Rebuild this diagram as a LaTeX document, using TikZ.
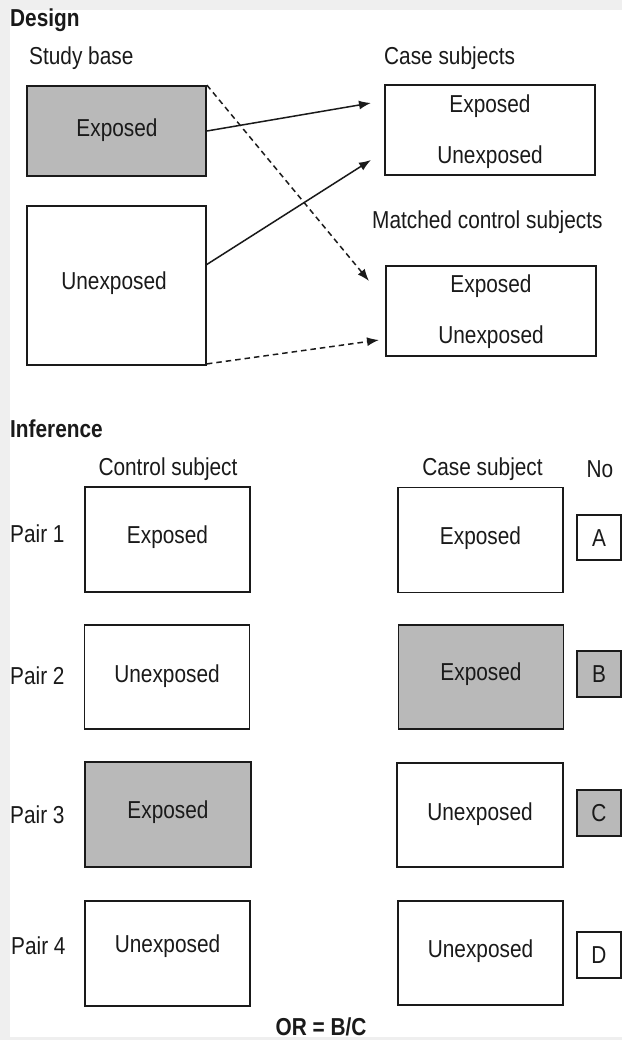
\documentclass[tikz,border=0pt]{standalone}
\usepackage{fontspec}
\setmainfont{Liberation Sans}[FakeStretch=0.85]
\usetikzlibrary{arrows.meta}
\definecolor{framegray}{HTML}{EFEFEF}
\definecolor{boxgray}{HTML}{B9B9B9}
\definecolor{ink}{HTML}{1A1A1A}
\begin{document}
\begin{tikzpicture}[x=1pt,y=-1pt,
  every node/.style={text=ink, font=\fontsize{24.5}{29}\selectfont},
  box/.style={draw=ink, line width=1.8pt, rectangle, inner sep=0pt},
  shaded/.style={box, fill=boxgray},
  plain/.style={box, fill=white},
  lbl/.style={inner sep=0pt},
  title/.style={lbl, font=\fontsize{24.5}{29}\selectfont\bfseries},
  conn/.style={line width=1.5pt, draw=ink, -{Latex[length=12pt,width=9pt]}},
  dconn/.style={conn, dash pattern=on 5.5pt off 4pt}]

% frame and page
\fill[framegray] (0,0) rectangle (622,1040);
\fill[white] (10,10) rectangle (622,1037);
\useasboundingbox (0,0) rectangle (622,1040);

% ---------------- Design ----------------
\node[title, anchor=west] (design) at (10,20) {Design};
\node[lbl, anchor=west] (studybase) at (29,58) {Study base};
\node[lbl, anchor=west] (casehead) at (384,58) {Case subjects};
\node[lbl, anchor=west] (mchead) at (372,222) {Matched control subjects};

\node[shaded, minimum width=179pt, minimum height=90pt] (sbE) at (116.5,131) {};
\node[lbl] at (117,130) {Exposed};
\node[plain, minimum width=179pt, minimum height=159pt] (sbU) at (116.5,285.5) {};
\node[lbl] at (114,283) {Unexposed};

\node[plain, minimum width=210pt, minimum height=90pt] (cases) at (490,130) {};
\node[lbl] (casesE) at (490,106) {Exposed};
\node[lbl] (casesU) at (490,157) {Unexposed};

\node[plain, minimum width=210pt, minimum height=90pt] (ctrls) at (491,311) {};
\node[lbl] (ctrlsE) at (491,286) {Exposed};
\node[lbl] (ctrlsU) at (491,337) {Unexposed};

% arrow ends next to the target boxes
\coordinate (tE) at (371,103);
\coordinate (tU) at (371,160);
\coordinate (cE) at (369,281);
\coordinate (cU) at (379,340);
\coordinate (sU) at (206,265);

\draw[conn] (sbE.east) -- (tE);
\draw[conn] (sU) -- (tU);
\draw[dconn] (sbE.north east) -- (cE);
\draw[dconn] (sbU.south east) ++(0,-2) -- (cU);

% ---------------- Inference ----------------
\node[title, anchor=west] (inference) at (10,429) {Inference};
\node[lbl] (ctrlhead) at (168,469) {Control subject};
\node[lbl] (casehd) at (482.5,469) {Case subject};
\node[lbl] (nohead) at (600,469) {No};

% pair rows
\node[lbl, anchor=west] (p1) at (10,534) {Pair 1};
\node[plain, minimum width=165pt, minimum height=105pt] (c1) at (167.5,539.5) {};
\node[lbl] at (167.5,537) {Exposed};
\node[plain, minimum width=165pt, minimum height=105pt] (k1) at (480.5,540) {};
\node[lbl] at (480.5,538) {Exposed};
\node[plain, minimum width=44pt, minimum height=45pt] (nA) at (599,537.5) {};
\node[lbl] at (599,538) {A};

\node[lbl, anchor=west] (p2) at (10,676) {Pair 2};
\node[plain, minimum width=165pt, minimum height=104pt] (c2) at (167,677) {};
\node[lbl] at (167,676) {Unexposed};
\node[shaded, minimum width=165pt, minimum height=104pt] (k2) at (481,677) {};
\node[lbl] at (481,674) {Exposed};
\node[shaded, minimum width=44pt, minimum height=46pt] (nB) at (599,674) {};
\node[lbl] at (599,674) {B};

\node[lbl, anchor=west] (p3) at (10,815) {Pair 3};
\node[shaded, minimum width=166pt, minimum height=105pt] (c3) at (168,814.5) {};
\node[lbl] at (168,812) {Exposed};
\node[plain, minimum width=166pt, minimum height=104pt] (k3) at (480,815) {};
\node[lbl] at (480,814) {Unexposed};
\node[shaded, minimum width=44pt, minimum height=46pt] (nC) at (599,813) {};
\node[lbl] at (599,813) {C};

\node[lbl, anchor=west] (p4) at (11,946) {Pair 4};
\node[plain, minimum width=165pt, minimum height=105pt] (c4) at (167.5,953.5) {};
\node[lbl] at (167.5,946) {Unexposed};
\node[plain, minimum width=165pt, minimum height=104pt] (k4) at (480.5,953) {};
\node[lbl] at (480.5,951) {Unexposed};
\node[plain, minimum width=44pt, minimum height=46pt] (nD) at (599,955) {};
\node[lbl] at (599,955) {D};

\node[title] (or) at (321,1027) {OR = B/C};
\end{tikzpicture}
\end{document}
